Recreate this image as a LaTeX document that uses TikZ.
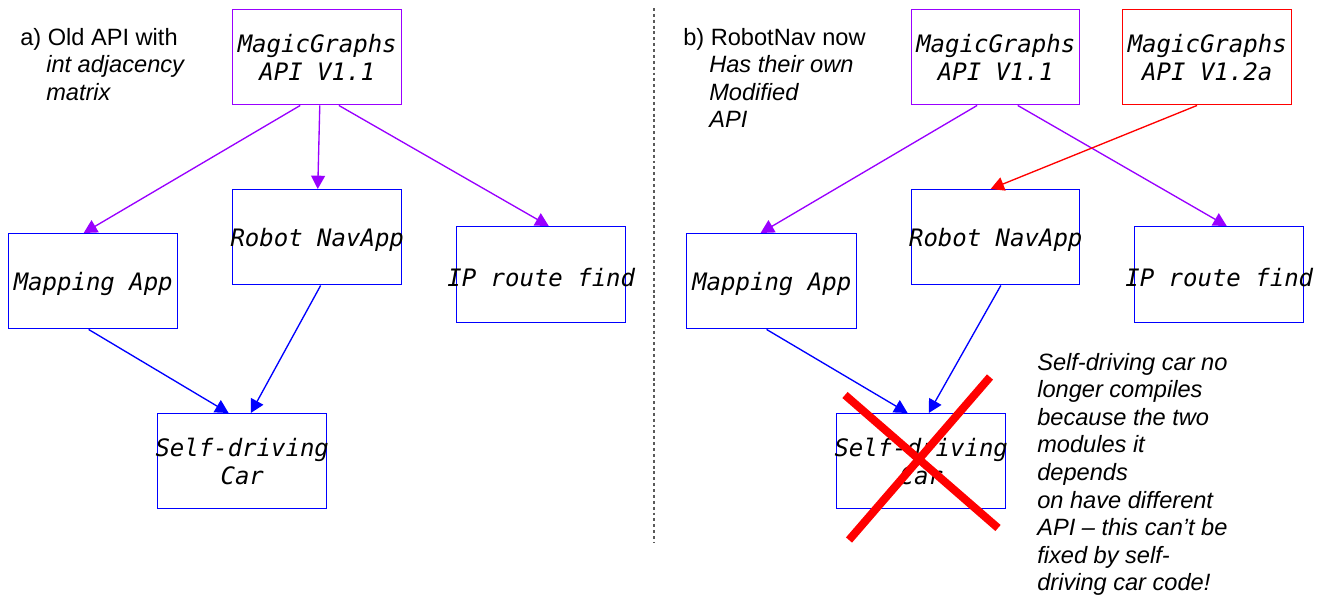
\documentclass[tikz,border=0pt]{standalone}
\usepackage{fontspec}
\setmainfont{Liberation Sans}
\setmonofont{DejaVu Sans Mono}
\usetikzlibrary{arrows.meta,calc}
\definecolor{vio}{RGB}{153,0,255}
\definecolor{myblue}{RGB}{0,0,255}
\definecolor{myred}{RGB}{255,0,0}
\definecolor{dashgray}{RGB}{90,90,90}
\begin{document}
\begin{tikzpicture}[x=0.75pt,y=-0.75pt,
  box/.style={draw,line width=1.1pt,minimum width=126.75pt,minimum height=71.25pt,inner sep=0pt,anchor=north west},
  bluebox/.style={box,draw=myblue},
  viobox/.style={box,draw=vio},
  redbox/.style={box,draw=myred},
  modtext/.style={font=\ttfamily\itshape\fontsize{18}{21}\selectfont,align=center,inner sep=0pt},
  modone/.style={modtext,yshift=-2pt},
  note/.style={font=\fontsize{17.7}{20.7}\selectfont,align=left,inner sep=0pt,anchor=base west},
  conn/.style={line width=1pt,-{Triangle[length=10pt,width=10.5pt]}},
  vioarrow/.style={conn,draw=vio,fill=vio},
  bluearrow/.style={conn,draw=myblue,fill=myblue},
  redarrow/.style={conn,draw=myred,fill=myred}]
\useasboundingbox (0,0) rectangle (1323,596);

% ---------- panel a ----------
\node[viobox] (mgA) at (232,9) {};
\node[modtext] (mgAt) at (mgA.center) {MagicGraphs\\API V1.1};
\node[bluebox] (mapA) at (8,233) {};
\node[modone] (mapAt) at (mapA.center) {Mapping App};
\node[bluebox] (robA) at (232,189) {};
\node[modone] (robAt) at (robA.center) {Robot NavApp};
\node[bluebox,minimum height=72pt] (ipA) at (456,226) {};
\node[modone] (ipAt) at (ipA.center) {IP route find};
\node[bluebox] (carA) at (157,413) {};
\node[modtext] (carAt) at (carA.center) {Self-driving\\Car};

% anchored at the baseline of the last line
\node[note] (noteA) at (20,100.2) {a) Old API with\\\hspace*{19.5pt}\textit{int adjacency}\\\hspace*{19.5pt}\textit{matrix}};

\draw[vioarrow] ($(mgA.south west)!0.40!(mgA.south east)$) -- ($(mapA.north west)!0.444!(mapA.north east)$);
\draw[vioarrow] ($(mgA.south west)!0.515!(mgA.south east)$) -- ($(robA.north west)!0.503!(robA.north east)$);
\draw[vioarrow] ($(mgA.south west)!0.627!(mgA.south east)$) -- ($(ipA.north west)!0.544!(ipA.north east)$);
\draw[bluearrow] ($(mapA.south west)!0.473!(mapA.south east)$) -- ($(carA.north west)!0.42!(carA.north east)$);
\draw[bluearrow] ($(robA.south west)!0.52!(robA.south east)$) -- ($(carA.north west)!0.55!(carA.north east)$);

% ---------- separator ----------
\draw[dashgray,line width=0.8pt,dash pattern=on 2.2pt off 2.2pt] (654,8) -- (654,543);

% ---------- panel b ----------
\node[viobox,minimum width=126pt] (mgB) at (911,9) {};
\node[modtext] (mgBt) at (mgB.center) {MagicGraphs\\API V1.1};
\node[redbox] (mgC) at (1122,9) {};
\node[modtext] (mgCt) at (mgC.center) {MagicGraphs\\API V1.2a};
\node[bluebox,minimum width=127.5pt] (mapB) at (686,233) {};
\node[modone] (mapBt) at (mapB.center) {Mapping App};
\node[bluebox,minimum width=126pt] (robB) at (911,189) {};
\node[modone] (robBt) at (robB.center) {Robot NavApp};
\node[bluebox,minimum height=72pt] (ipB) at (1134,226) {};
\node[modone] (ipBt) at (ipB.center) {IP route find};
\node[bluebox] (carB) at (836,413) {};
\node[modtext] (carBt) at (carB.center) {Self-driving\\Car};

\node[note] (noteB) at (683,127.8) {b) RobotNav now\\\hspace*{19.5pt}\textit{Has their own}\\\hspace*{19.5pt}\textit{Modified}\\\hspace*{19.5pt}\textit{API}};

\draw[vioarrow] ($(mgB.south west)!0.39!(mgB.south east)$) -- ($(mapB.north west)!0.435!(mapB.north east)$);
\draw[vioarrow] ($(mgB.south west)!0.63!(mgB.south east)$) -- ($(ipB.north west)!0.544!(ipB.north east)$);
\draw[redarrow] ($(mgC.south west)!0.44!(mgC.south east)$) -- ($(robB.north west)!0.47!(robB.north east)$);
\draw[bluearrow] ($(mapB.south west)!0.47!(mapB.south east)$) -- ($(carB.north west)!0.42!(carB.north east)$);
\draw[bluearrow] ($(robB.south west)!0.53!(robB.south east)$) -- ($(carB.north west)!0.544!(carB.north east)$);

% red cross
\draw[myred,line width=6pt] (845,395) -- (998,528);
\draw[myred,line width=6pt] (990,377) -- (849,540);

\node[note,font=\itshape\fontsize{17.7}{20.7}\selectfont] (noteC) at (1037,590.8) {Self-driving car no\\longer compiles\\because the two\\modules it\\depends\\on have different\\API – this can’t be\\fixed by self-\\driving car code!};
\end{tikzpicture}
\end{document}
